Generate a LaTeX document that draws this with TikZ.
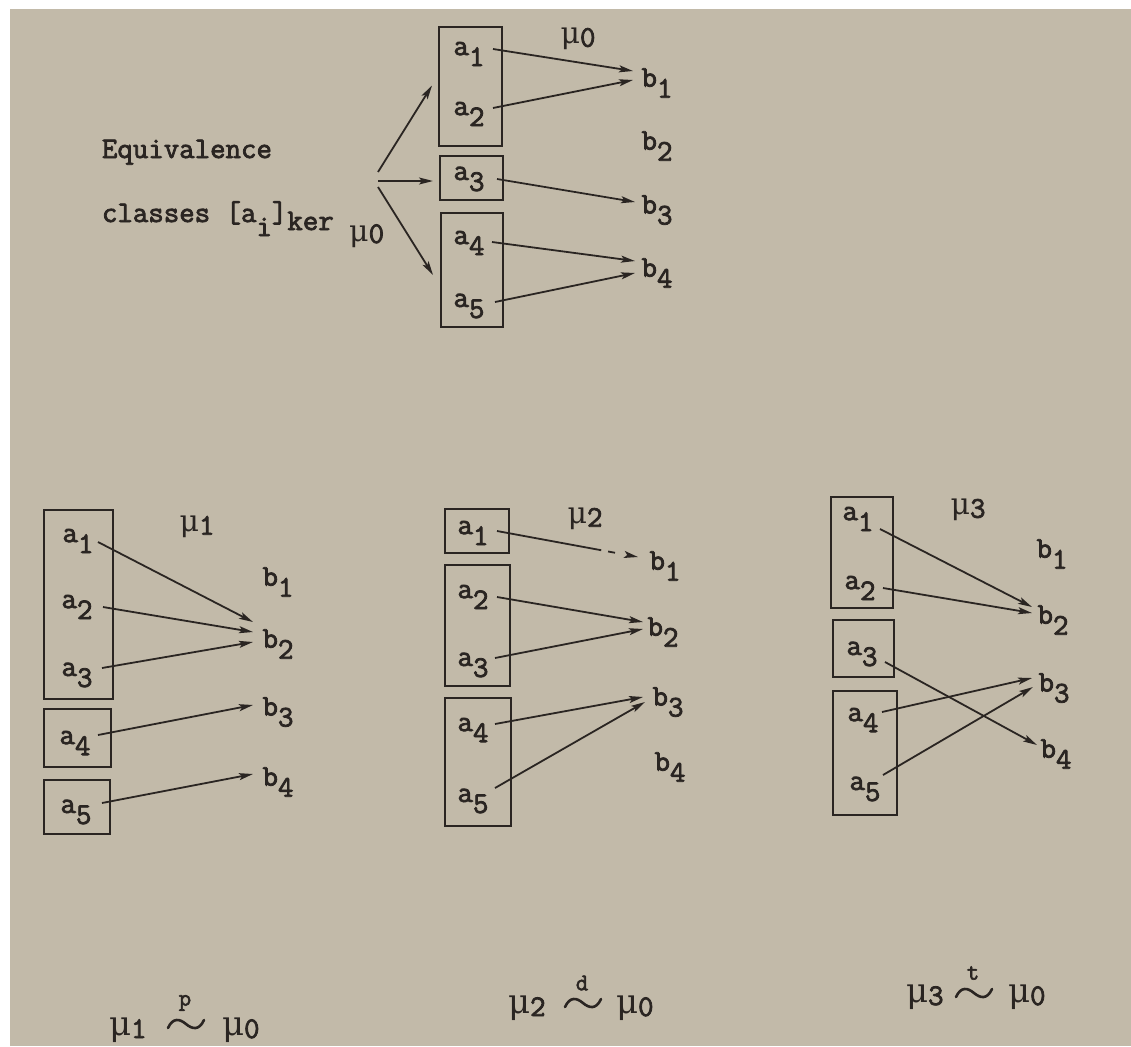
\documentclass[tikz,border=0pt]{standalone}
\usepackage{fontspec}
\setmonofont{Latin Modern Mono}[FakeBold=2.6]
\newfontfamily\grk{DejaVu Serif}
\usetikzlibrary{arrows.meta,calc}
\definecolor{paper}{RGB}{194,186,169}
\definecolor{ink}{RGB}{42,37,34}
\newcommand{\lowr}[1]{\raisebox{-11pt}{#1}}
\newcommand{\lowmu}[1]{\raisebox{-3pt}{#1}}
\newcommand{\mmu}{{\grk\fontsize{30}{34}\selectfont μ}}
\newcommand{\bmu}{{\grk\fontsize{34}{38}\selectfont μ}}
\begin{document}
\begin{tikzpicture}[x=1pt,y=-1pt,
  every node/.style={font=\ttfamily\fontsize{30}{34}\selectfont, text=ink, inner sep=0pt, outer sep=0pt},
  lab/.style={anchor=center},
  clsbox/.style={draw=ink, line width=2pt},
  arr/.style={draw=ink, line width=1.8pt, -{Stealth[length=14pt,width=7pt,inset=3pt]}},
  rel/.style={anchor=base west},
  relletter/.style={font=\ttfamily\fontsize{24}{24}\selectfont},
  tildestroke/.style={draw=ink, line width=2.6pt, line cap=round}]
\useasboundingbox (0,0) rectangle (1131,1046);
\fill[white] (0,0) rectangle (1131,1046);
\fill[paper] (10,9) rectangle (1131,1046);

% ---------------- top diagram ----------------
\node (Eq) [anchor=base west] at (102,158) {Equivalence};
\node (Cl) [anchor=base west] at (102,222) {classes [a\raisebox{-14pt}{i}]\raisebox{-8pt}{ker} \raisebox{-19pt}{\mmu\raisebox{-2pt}{0}}};
\coordinate (F) at (378,180);

\node[clsbox, minimum width=63pt, minimum height=119pt] (T1) at (470.5,86.5) {};
\node[clsbox, minimum width=63pt, minimum height=44pt]  (T2) at (471.5,178) {};
\node[clsbox, minimum width=62pt, minimum height=114pt] (T3) at (472,270) {};

\node[lab] (TA1) at (469,54)  {a\lowr{1}};
\node[lab] (TA2) at (469,114) {a\lowr{2}};
\node[lab] (TA3) at (469,179) {a\lowr{3}};
\node[lab] (TA4) at (469,243) {a\lowr{4}};
\node[lab] (TA5) at (469,306) {a\lowr{5}};
\node[lab] (TM)  at (578,39)  {\mmu\lowmu{0}};
\node[lab] (TB1) at (657,83)  {b\lowr{1}};
\node[lab] (TB2) at (657,146) {b\lowr{2}};
\node[lab] (TB3) at (657,210) {b\lowr{3}};
\node[lab] (TB4) at (657,273) {b\lowr{4}};

\draw[arr] ($(F)+(0,-8)$) -- ($(T1.west)+(-7,-1)$);
\draw[arr] ($(F)+(0,1)$)  -- ($(T2.west)+(-7,3)$);
\draw[arr] ($(F)+(0,7)$)  -- ($(T3.west)+(-8,5)$);

\draw[arr] ($(TA1.center)+(24,-5)$) -- ($(TB1.center)+(-24,-12)$);
\draw[arr] ($(TA2.center)+(24,-6)$) -- ($(TB1.center)+(-24,-3)$);
\draw[arr] ($(TA3.center)+(28,0)$)  -- ($(TB3.center)+(-22,-8)$);
\draw[arr] ($(TA4.center)+(23,-1)$) -- ($(TB4.center)+(-22,-12)$);
\draw[arr] ($(TA5.center)+(26,-4)$) -- ($(TB4.center)+(-22,0)$);

% ---------------- left diagram (mu1) ----------------
\node[clsbox, minimum width=69pt, minimum height=189pt] (L1) at (78.5,604.5) {};
\node[clsbox, minimum width=67pt, minimum height=58pt]  (L2) at (77.5,738) {};
\node[clsbox, minimum width=66pt, minimum height=54pt]  (L3) at (77,807) {};

\node[lab] (LA1) at (78,541) {a\lowr{1}};
\node[lab] (LA2) at (77,607) {a\lowr{2}};
\node[lab] (LA3) at (77,675) {a\lowr{3}};
\node[lab] (LA4) at (75,743) {a\lowr{4}};
\node[lab] (LA5) at (76,812) {a\lowr{5}};
\node[lab] (LM)  at (197,527) {\mmu\lowmu{1}};
\node[lab] (LB1) at (278,582) {b\lowr{1}};
\node[lab] (LB2) at (278,644) {b\lowr{2}};
\node[lab] (LB3) at (278,712) {b\lowr{3}};
\node[lab] (LB4) at (278,782) {b\lowr{4}};

\draw[arr] ($(LA1.center)+(20,1)$)  -- ($(LB2.center)+(-25,-22)$);
\draw[arr] ($(LA2.center)+(26,0)$)  -- ($(LB2.center)+(-25,-12)$);
\draw[arr] ($(LA3.center)+(25,-7)$) -- ($(LB2.center)+(-25,-2)$);
\draw[arr] ($(LA4.center)+(23,-8)$) -- ($(LB3.center)+(-25,-7)$);
\draw[arr] ($(LA5.center)+(26,-9)$) -- ($(LB4.center)+(-25,-8)$);

% ---------------- middle diagram (mu2) ----------------
\node[clsbox, minimum width=64pt, minimum height=44pt]  (M1) at (477,531) {};
\node[clsbox, minimum width=65pt, minimum height=121pt] (M2) at (477.5,625.5) {};
\node[clsbox, minimum width=66pt, minimum height=128pt] (M3) at (478,762) {};

\node[lab] (MA1) at (473,533) {a\lowr{1}};
\node[lab] (MA2) at (473,597) {a\lowr{2}};
\node[lab] (MA3) at (473,665) {a\lowr{3}};
\node[lab] (MA4) at (473,730) {a\lowr{4}};
\node[lab] (MA5) at (473,801) {a\lowr{5}};
\node[lab] (MM)  at (585,519) {\mmu\lowmu{2}};
\node[lab] (MB1) at (665,566) {b\lowr{1}};
\node[lab] (MB2) at (663,632) {b\lowr{2}};
\node[lab] (MB3) at (668,702) {b\lowr{3}};
\node[lab] (MB4) at (670,767) {b\lowr{4}};

\draw[arr, dash pattern=on 106pt off 7pt on 7pt off 30pt] ($(MA1.center)+(24,-2)$) -- ($(MB1.center)+(-27,-9)$);
\draw[arr] ($(MA2.center)+(24,0)$)   -- ($(MB2.center)+(-20,-10)$);
\draw[arr] ($(MA3.center)+(22,-7)$)  -- ($(MB2.center)+(-20,-3)$);
\draw[arr] ($(MA4.center)+(22,-6)$)  -- ($(MB3.center)+(-25,-5)$);
\draw[arr] ($(MA5.center)+(22,-13)$) -- ($(MB3.center)+(-23,0)$);

% ---------------- right diagram (mu3) ----------------
\node[clsbox, minimum width=62pt, minimum height=111pt] (R1) at (862,552.5) {};
\node[clsbox, minimum width=61pt, minimum height=57pt]  (R2) at (863.5,648.5) {};
\node[clsbox, minimum width=64pt, minimum height=124pt] (R3) at (865,753) {};

\node[lab] (RA1) at (858,519) {a\lowr{1}};
\node[lab] (RA2) at (860,588) {a\lowr{2}};
\node[lab] (RA3) at (862,654) {a\lowr{3}};
\node[lab] (RA4) at (863,720) {a\lowr{4}};
\node[lab] (RA5) at (865,789) {a\lowr{5}};
\node[lab] (RM)  at (968,510) {\mmu\lowmu{3}};
\node[lab] (RB1) at (1052,554) {b\lowr{1}};
\node[lab] (RB2) at (1053,620) {b\lowr{2}};
\node[lab] (RB3) at (1054,688) {b\lowr{3}};
\node[lab] (RB4) at (1056,754) {b\lowr{4}};

\draw[arr] ($(RA1.center)+(22,10)$)  -- ($(RB2.center)+(-21,-13)$);
\draw[arr] ($(RA2.center)+(23,0)$)   -- ($(RB2.center)+(-21,-7)$);
\draw[arr] ($(RA3.center)+(23,8)$)   -- ($(RB4.center)+(-19,-9)$);
\draw[arr] ($(RA4.center)+(19,-8)$)  -- ($(RB3.center)+(-22,-10)$);
\draw[arr] ($(RA5.center)+(18,-14)$) -- ($(RB3.center)+(-21,-1)$);

% ---------------- relations ----------------
\node[rel] (Q1a) at (109,1035) {\bmu\lowmu{1}};
\node[lab, relletter] (Q1l) at (185,1003) {p};
\node[rel] (Q1b) at (222,1035) {\bmu\lowmu{0}};
\draw[tildestroke, shift={(186,1024)}] (-18,4) .. controls (-13,-7) and (-6,-5) .. (0,0) .. controls (6,5) and (13,7) .. (18,-4);

\node[rel] (Q2a) at (508,1013) {\bmu\lowmu{2}};
\node[lab, relletter] (Q2l) at (582,983) {d};
\node[rel] (Q2b) at (616,1013) {\bmu\lowmu{0}};
\draw[tildestroke, shift={(583,1003)}] (-18,4) .. controls (-13,-7) and (-6,-5) .. (0,0) .. controls (6,5) and (13,7) .. (18,-4);

\node[rel] (Q3a) at (906,1002) {\bmu\lowmu{3}};
\node[lab, relletter] (Q3l) at (973,973) {t};
\node[rel] (Q3b) at (1008,1002) {\bmu\lowmu{0}};
\draw[tildestroke, shift={(974,993)}] (-18,4) .. controls (-13,-7) and (-6,-5) .. (0,0) .. controls (6,5) and (13,7) .. (18,-4);
\end{tikzpicture}
\end{document}
